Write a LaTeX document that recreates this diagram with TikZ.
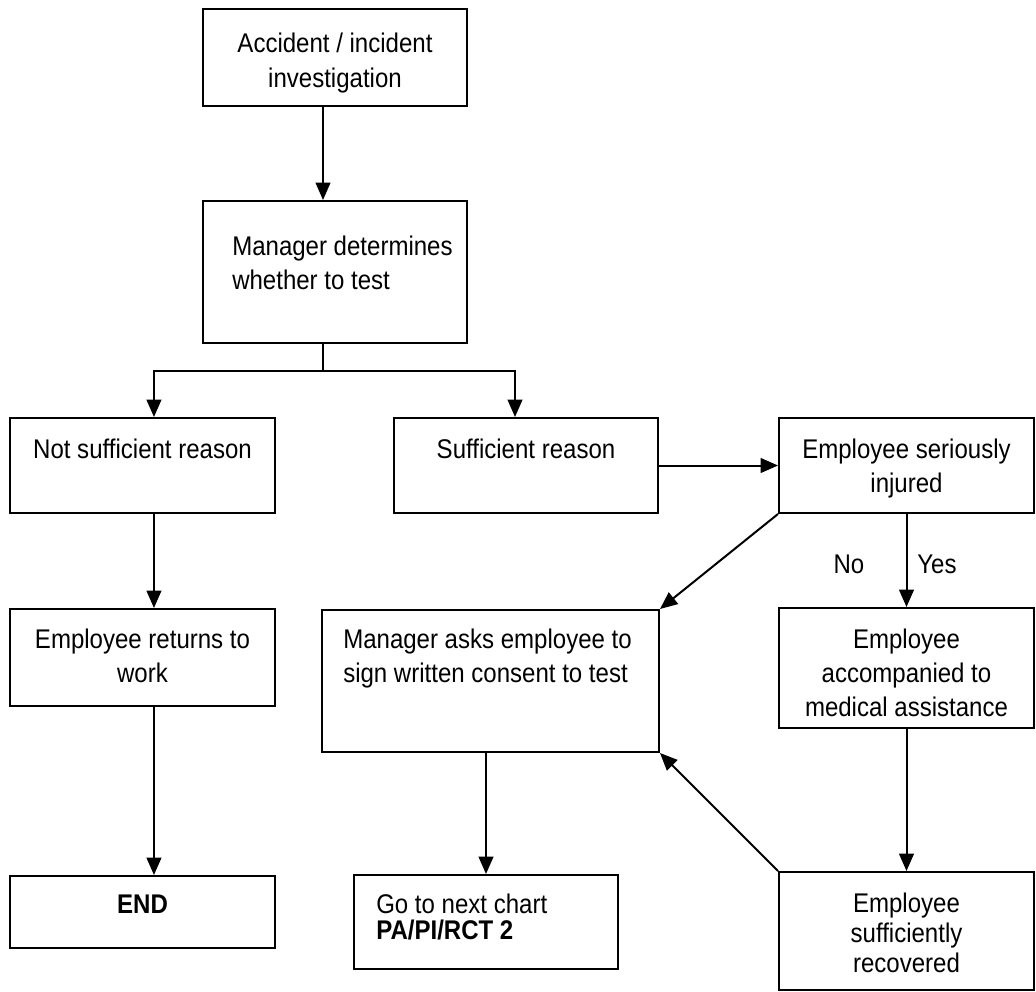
\documentclass[tikz,border=0pt]{standalone}
\usepackage{fontspec}
\setmainfont{Liberation Sans}[FakeStretch=0.89]
\usetikzlibrary{arrows.meta,fit}
\newcommand{\ml}[2]{\begin{tabular}[t]{@{}#1@{}}#2\end{tabular}}
\begin{document}
\begin{tikzpicture}[x=0.75pt,y=-0.75pt,
  box/.style={draw, line width=1.5pt, inner sep=0pt},
  arr/.style={line width=1.5pt, -{Triangle[length=13pt,width=11pt]}},
  ln/.style={line width=1.5pt},
  txt/.style={anchor=base, inner sep=0pt, font=\fontsize{20.25}{25.5}\selectfont},
  txtl/.style={txt, anchor=base west},
]
\useasboundingbox (0,0) rectangle (1036,992);
% boxes
\node[box, fit={(203,9) (467,106)}] (b1) {};
\node[box, fit={(203,201) (467,343)}] (b2) {};
\node[box, fit={(10,418) (275,513)}] (b3) {};
\node[box, fit={(394,418) (658,513)}] (b4) {};
\node[box, fit={(779,418) (1034,513)}] (b5) {};
\node[box, fit={(10,609) (275,706)}] (b6) {};
\node[box, fit={(322,610) (659,752)}] (b7) {};
\node[box, fit={(779,608) (1034,728)}] (b8) {};
\node[box, fit={(10,876) (275,948)}] (b9) {};
\node[box, fit={(354,875) (618,969)}] (b10) {};
\node[box, fit={(779,872) (1034,990)}] (b11) {};
% texts
\node[txt, font=\fontsize{20.25}{26.25}\selectfont] (t1) at (335,52) {\ml{c}{Accident / incident\\investigation}};
\node[txtl] (t2) at (232,255) {\ml{l}{Manager determines\\whether to test}};
\node[txt] (t3) at (142.5,458) {Not sufficient reason};
\node[txt] (t4) at (526,458) {Sufficient reason};
\node[txt] (t5) at (906.5,458) {\ml{c}{Employee seriously\\injured}};
\node[txt] (t6) at (142.5,648) {\ml{c}{Employee returns to\\work}};
\node[txtl] (t7) at (343,648) {\ml{l}{Manager asks employee to\\sign written consent to test}};
\node[txt] (t8) at (906.5,648) {\ml{c}{Employee\\accompanied to\\medical assistance}};
\node[txt] (t9) at (142.5,913) {\textbf{END}};
\node[txtl, font=\fontsize{20.25}{18}\selectfont] (t10) at (376,913) {\ml{l}{Go to next chart\\\textbf{PA/PI/RCT 2}}};
\node[txt, font=\fontsize{20.25}{22.5}\selectfont] (t11) at (906.5,912) {\ml{c}{Employee\\sufficiently\\recovered}};
\node[txt] (no) at (849,573) {No};
\node[txt] (yes) at (937,573) {Yes};
% connectors
\draw[arr] ([xshift=-9pt]b1.south) -- ([xshift=-9pt]b2.north);
\coordinate (j) at (323,371);
\draw[ln] ([xshift=-9pt]b2.south) -- (j);
\draw[arr] (j) -| ([xshift=8.6pt]b3.north);
\draw[arr] (j) -| ([xshift=-8.25pt]b4.north);
\draw[arr] ([xshift=8.6pt]b3.south) -- ([xshift=8.6pt]b6.north);
\draw[arr] ([xshift=8.6pt]b6.south) -- ([xshift=8.6pt]b9.north);
\draw[arr] (b4.east) -- (b5.west);
\draw[arr] (b5.south west) -- (b7.north east);
\draw[arr] (b5.south) -- (b8.north);
\draw[arr] (b8.south) -- (b11.north);
\draw[arr] (b11.north west) -- (b7.south east);
\draw[arr] (b7.south -| b10.north) -- (b10.north);
\end{tikzpicture}
\end{document}
